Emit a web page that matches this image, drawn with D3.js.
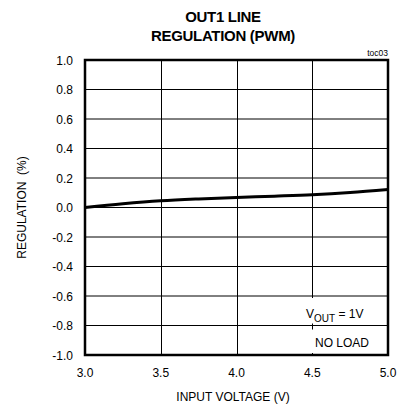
<!DOCTYPE html>
<html>
<head>
<meta charset="utf-8">
<script src="https://cdn.jsdelivr.net/npm/d3@7"></script>
<style>
  body { margin: 0; background: #fff; }
  svg { display: block; font-family: "Liberation Sans", Arial, sans-serif; }
  .tick-label { font-size: 12px; fill: #000; }
  .grid line { stroke: #000; stroke-width: 1; }
</style>
</head>
<body>
<script>
const width = 405;
const height = 410;
const margin = { top: 60, right: 17, bottom: 55, left: 85 };

// input voltage (V) and regulation (%)
const vin = [3.0, 3.25, 3.5, 3.75, 4.0, 4.25, 4.5, 4.75, 5.0];
const regulation = [0.0, 0.025, 0.045, 0.058, 0.068, 0.077, 0.087, 0.102, 0.122];

const xTicks = [3.0, 3.5, 4.0, 4.5, 5.0];
const yTicks = [1.0, 0.8, 0.6, 0.4, 0.2, 0.0, -0.2, -0.4, -0.6, -0.8, -1.0];

const points = vin.map((v, i) => ({ v: v, r: regulation[i] }));

const svg = d3.select("body").append("svg")
  .attr("width", width)
  .attr("height", height);

const x = d3.scaleLinear().domain([3.0, 5.0]).range([margin.left, width - margin.right]);
const y = d3.scaleLinear().domain([-1.0, 1.0]).range([height - margin.bottom, margin.top]);

// grid
svg.append("g")
  .attr("class", "grid")
  .selectAll("line.h")
  .data(yTicks.slice(1, -1))
  .join("line")
  .attr("x1", x(3.0)).attr("x2", x(5.0))
  .attr("y1", d => y(d)).attr("y2", d => y(d));

svg.append("g")
  .attr("class", "grid")
  .selectAll("line.v")
  .data(xTicks.slice(1, -1))
  .join("line")
  .attr("x1", d => Math.round(x(d)) + 0.5).attr("x2", d => Math.round(x(d)) + 0.5)
  .attr("y1", y(1.0)).attr("y2", y(-1.0));

// white boxes behind the notes
svg.append("rect")
  .attr("x", x(4.45)).attr("y", y(-0.6) + 2)
  .attr("width", x(4.97) - x(4.45)).attr("height", y(-0.8) - y(-0.6) - 4)
  .attr("fill", "#fff");
svg.append("rect")
  .attr("x", x(4.45)).attr("y", y(-0.8) + 4)
  .attr("width", x(4.97) - x(4.45)).attr("height", y(-1.0) - y(-0.8) - 6)
  .attr("fill", "#fff");

// curve
const line = d3.line()
  .x(d => x(d.v))
  .y(d => y(d.r))
  .curve(d3.curveMonotoneX);

svg.append("path")
  .datum(points)
  .attr("d", line)
  .attr("fill", "none")
  .attr("stroke", "#000")
  .attr("stroke-width", 3);

// frame
svg.append("rect")
  .attr("x", x(3.0)).attr("y", y(1.0))
  .attr("width", x(5.0) - x(3.0)).attr("height", y(-1.0) - y(1.0))
  .attr("fill", "none")
  .attr("stroke", "#000")
  .attr("stroke-width", 2.5);

// tick labels
svg.append("g")
  .selectAll("text")
  .data(yTicks)
  .join("text")
  .attr("class", "tick-label")
  .attr("x", margin.left - 12)
  .attr("y", d => y(d) + 4.5)
  .attr("text-anchor", "end")
  .text(d => d3.format(".1f")(d).replace("−", "-"));

svg.append("g")
  .selectAll("text")
  .data(xTicks)
  .join("text")
  .attr("class", "tick-label")
  .attr("x", d => x(d))
  .attr("y", height - margin.bottom + 22)
  .attr("text-anchor", "middle")
  .text(d => d3.format(".1f")(d));

// axis titles
svg.append("text")
  .attr("class", "tick-label")
  .attr("x", 233)
  .attr("y", 401)
  .attr("text-anchor", "middle")
  .text("INPUT VOLTAGE (V)");

svg.append("text")
  .attr("class", "tick-label")
  .attr("transform", `translate(26,${y(0)}) rotate(-90)`)
  .attr("text-anchor", "middle")
  .attr("xml:space", "preserve")
  .style("white-space", "pre")
  .text("REGULATION  (%)");

// title
svg.append("text")
  .attr("x", 223).attr("y", 22)
  .attr("text-anchor", "middle")
  .attr("font-size", 15).attr("font-weight", "bold")
  .attr("letter-spacing", -0.3)
  .text("OUT1 LINE");
svg.append("text")
  .attr("x", 223).attr("y", 41)
  .attr("text-anchor", "middle")
  .attr("font-size", 15).attr("font-weight", "bold")
  .attr("letter-spacing", -0.3)
  .text("REGULATION (PWM)");

svg.append("text")
  .attr("x", x(5.0)).attr("y", 56)
  .attr("text-anchor", "end")
  .attr("font-size", 8.5)
  .text("toc03");

// notes
const note1 = svg.append("text")
  .attr("class", "tick-label")
  .attr("x", 306).attr("y", 318);
note1.append("tspan").text("V");
note1.append("tspan").attr("font-size", 10).attr("dy", 4).text("OUT");
note1.append("tspan").attr("dy", -4).text(" = 1V");

svg.append("text")
  .attr("class", "tick-label")
  .attr("x", 315).attr("y", 347)
  .text("NO LOAD");
</script>
</body>
</html>
